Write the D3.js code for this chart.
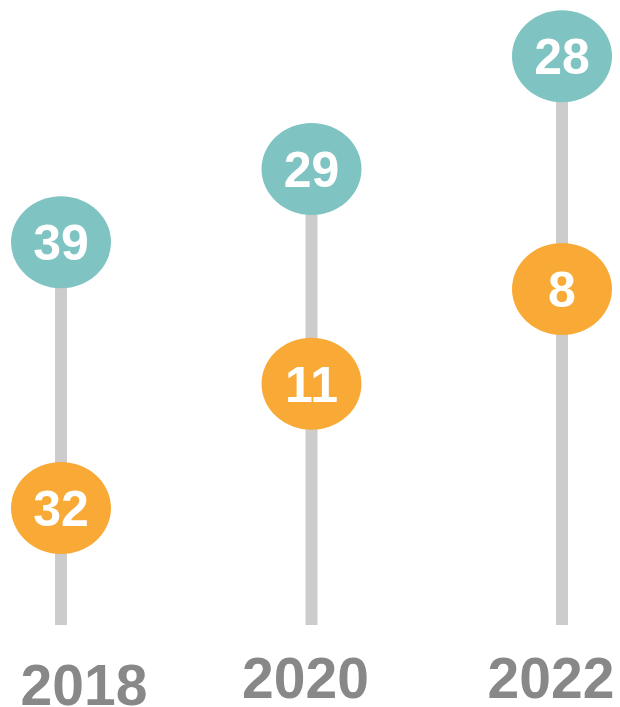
<!DOCTYPE html>
<html>
<head>
<meta charset="utf-8">
<script src="https://cdn.jsdelivr.net/npm/d3@7/dist/d3.min.js"></script>
<style>
  html, body { margin: 0; padding: 0; background: #fff; }
  svg { display: block; }
  text { font-family: "Liberation Sans", Arial, sans-serif; font-weight: bold; }
</style>
</head>
<body>
<svg id="chart" width="620" height="707"></svg>
<script>
// Data
const years = ["2018", "2020", "2022"];
const tealValues = [39, 29, 28];       // labels shown in teal circles
const orangeValues = [32, 11, 8];      // labels shown in orange circles
const tealLevel = [63.8, 76, 94.8];    // vertical position (0-100 scale)
const orangeLevel = [19.5, 40.2, 56];  // vertical position (0-100 scale)

// Layout
const W = 620, H = 707;
const svg = d3.select("#chart");
const x = d3.scalePoint().domain(years).range([61, 562]);
const y = d3.scaleLinear().domain([0, 100]).range([625, 25]);
const rx = 50, ry = 46;
const teal = "#7fc3c3", orange = "#f9aa36", stemColor = "#cccccc", yearColor = "#888888";

const rows = years.map((yr, i) => ({
  year: yr, teal: tealValues[i], orange: orangeValues[i],
  tl: tealLevel[i], ol: orangeLevel[i]
}));

// stems
svg.selectAll("rect.stem").data(rows).join("rect")
  .attr("class", "stem")
  .attr("x", d => x(d.year) - 6)
  .attr("width", 12)
  .attr("y", d => y(d.tl))
  .attr("height", d => y(0) - y(d.tl))
  .attr("fill", stemColor);

function drawDots(key, levelKey, color) {
  const g = svg.selectAll("g." + key).data(rows).join("g")
    .attr("class", key)
    .attr("transform", d => `translate(${x(d.year)},${y(d[levelKey])})`);
  g.append("ellipse").attr("rx", rx).attr("ry", ry).attr("fill", color);
  g.append("text")
    .attr("text-anchor", "middle")
    .attr("y", 18)
    .attr("font-size", 50)
    .attr("fill", "#ffffff")
    .text(d => d[key]);
}
drawDots("teal", "tl", teal);
drawDots("orange", "ol", orange);

// year labels
const yearDx = [23, -6, -11];
const yearBase = [705, 698, 698];
svg.selectAll("text.year").data(rows).join("text")
  .attr("class", "year")
  .attr("x", (d, i) => x(d.year) + yearDx[i])
  .attr("y", (d, i) => yearBase[i])
  .attr("text-anchor", "middle")
  .attr("font-size", 57)
  .attr("fill", yearColor)
  .text(d => d.year);
</script>
</body>
</html>
